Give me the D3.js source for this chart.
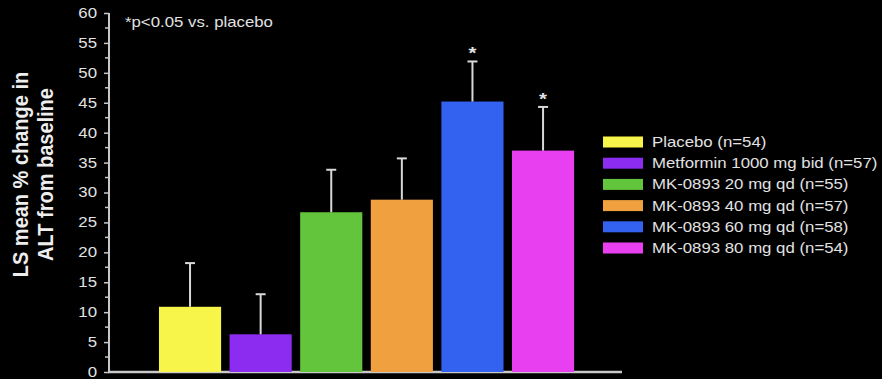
<!DOCTYPE html>
<html>
<head>
<meta charset="utf-8">
<script src="https://cdn.jsdelivr.net/npm/d3@7"></script>
<style>
  html, body { margin: 0; padding: 0; background: #000; }
  svg { display: block; }
  text { font-family: "Liberation Sans", Arial, sans-serif; }
</style>
</head>
<body>
<svg id="chart" width="882" height="379"></svg>
<script>
// Treatment groups, LS mean % change in ALT and the standard error above each bar
const groups = [
  "Placebo (n=54)",
  "Metformin 1000 mg bid (n=57)",
  "MK-0893 20 mg qd (n=55)",
  "MK-0893 40 mg qd (n=57)",
  "MK-0893 60 mg qd (n=58)",
  "MK-0893 80 mg qd (n=54)"
];
const lsMean = [10.9, 6.3, 26.7, 28.8, 45.2, 37.0];
const stdErr = [7.3, 6.7, 7.1, 6.9, 6.7, 7.3];
const vsPlacebo = [false, false, false, false, true, true];
const groupColors = ["#f7f549", "#8c2cf0", "#63c53c", "#f0a03e", "#3462f0", "#e83ff0"];
const yTicks = [0, 5, 10, 15, 20, 25, 30, 35, 40, 45, 50, 55, 60];
const yMinorTicks = [2.5, 7.5, 12.5, 17.5, 22.5, 27.5, 32.5, 37.5, 42.5, 47.5, 52.5, 57.5];
const yTitle = ["LS mean % change in", "ALT from baseline"];
const footnote = "*p<0.05 vs. placebo";

// Slide text is drawn slightly widened
const SX = 1.2;

const svg = d3.select("#chart");
const axisColor = "#c8c8c8";
const textColor = "#e2e2e2";

const y = d3.scaleLinear().domain([0, 60]).range([372, 13]);
const x = d3.scaleBand().domain(groups).range([150.5, 582.6])
  .paddingInner(0.12).paddingOuter(0.12);
const axisX = 109;

// Y axis: labelled ticks every 5 plus short minor ticks
const yAxis = svg.append("g").attr("transform", `translate(${axisX},0)`)
  .call(d3.axisLeft(y).tickValues(yTicks).tickSize(5).tickPadding(7));
yAxis.select(".domain").attr("stroke", axisColor).attr("stroke-width", 2)
  .attr("d", `M0,${y(60)}V${y(0)}`);
yAxis.selectAll(".tick line").attr("stroke", axisColor).attr("stroke-width", 1.5);
yAxis.selectAll(".tick text")
  .attr("fill", textColor)
  .attr("font-size", 14)
  .attr("font-family", "Liberation Sans, Arial, sans-serif")
  .attr("x", -12 / SX)
  .attr("transform", `scale(${SX},1)`);

svg.append("g").selectAll("line").data(yMinorTicks).join("line")
  .attr("x1", axisX - 4).attr("x2", axisX)
  .attr("y1", d => y(d)).attr("y2", d => y(d))
  .attr("stroke", axisColor).attr("stroke-width", 1.5);

// Baseline
svg.append("line")
  .attr("x1", axisX - 1).attr("x2", 622)
  .attr("y1", y(0)).attr("y2", y(0))
  .attr("stroke", axisColor).attr("stroke-width", 2.5);

// Bars
const data = groups.map((g, i) => ({
  group: g, mean: lsMean[i], se: stdErr[i], sig: vsPlacebo[i], color: groupColors[i]
}));

svg.append("g").selectAll("rect").data(data).join("rect")
  .attr("x", d => x(d.group))
  .attr("width", x.bandwidth())
  .attr("y", d => y(d.mean))
  .attr("height", d => y(0) - y(d.mean))
  .attr("fill", d => d.color);

// Upper error bars
const err = svg.append("g").attr("stroke", "#d8d8d8").attr("stroke-width", 2);
err.selectAll("line.stem").data(data).join("line").attr("class", "stem")
  .attr("x1", d => x(d.group) + x.bandwidth() / 2)
  .attr("x2", d => x(d.group) + x.bandwidth() / 2)
  .attr("y1", d => y(d.mean))
  .attr("y2", d => y(d.mean + d.se));
err.selectAll("line.cap").data(data).join("line").attr("class", "cap")
  .attr("x1", d => x(d.group) + x.bandwidth() / 2 - 5)
  .attr("x2", d => x(d.group) + x.bandwidth() / 2 + 5)
  .attr("y1", d => y(d.mean + d.se))
  .attr("y2", d => y(d.mean + d.se));

// Significance markers
svg.append("g").selectAll("text").data(data.filter(d => d.sig)).join("text")
  .attr("transform", d => `translate(${x(d.group) + x.bandwidth() / 2},${y(d.mean + d.se) - 2}) scale(${SX},1)`)
  .attr("text-anchor", "middle")
  .attr("font-size", 17)
  .attr("font-weight", "bold")
  .attr("fill", textColor)
  .text("*");

// Footnote
svg.append("text")
  .attr("transform", `translate(125,27) scale(${SX},1)`)
  .attr("font-size", 14)
  .attr("fill", textColor)
  .text(footnote);

// Y axis title (two lines)
svg.append("g").selectAll("text").data(yTitle).join("text")
  .attr("transform", (d, i) => `translate(${28 + i * 25},174.5) scale(1.08,1) rotate(-90)`)
  .attr("text-anchor", "middle")
  .attr("font-size", 20)
  .attr("font-weight", "bold")
  .attr("fill", "#eeeeee")
  .text(d => d);

// Legend
const legend = svg.append("g").attr("transform", "translate(603,142)");
const rows = legend.selectAll("g").data(data).join("g")
  .attr("transform", (d, i) => `translate(0,${i * 21.2})`);
rows.append("rect")
  .attr("x", 0).attr("y", -5.5)
  .attr("width", 40).attr("height", 11)
  .attr("fill", d => d.color);
rows.append("text")
  .attr("transform", `translate(49,5) scale(${SX},1)`)
  .attr("font-size", 14)
  .attr("fill", textColor)
  .text(d => d.group);
</script>
</body>
</html>
